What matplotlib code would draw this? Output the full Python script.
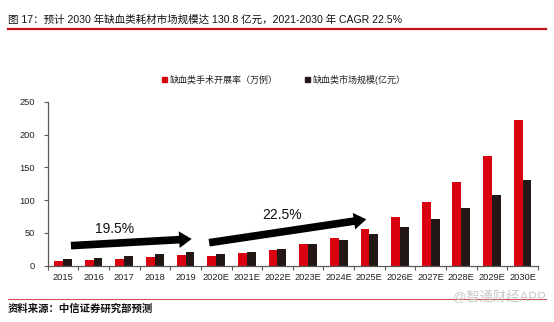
import matplotlib
matplotlib.use("Agg")
import matplotlib.pyplot as plt
from matplotlib.lines import Line2D
from matplotlib.patches import Patch

FONTS = ["Liberation Sans", "Noto Sans CJK SC", "DejaVu Sans"]
plt.rcParams["font.family"] = FONTS

years = ["2015", "2016", "2017", "2018", "2019", "2020E", "2021E", "2022E",
         "2023E", "2024E", "2025E", "2026E", "2027E", "2028E", "2029E", "2030E"]
surgeries = [6.6, 8.0, 10.0, 12.7, 15.7, 14.2, 18.8, 23.9,
             32.5, 42.7, 56.4, 74.2, 97.0, 128.0, 168.0, 221.5]
market = [10.2, 11.7, 14.0, 17.3, 20.3, 17.3, 21.3, 25.9,
          32.5, 38.6, 48.3, 58.4, 71.6, 87.4, 107.7, 130.8]
series_names = ["缺血类手术开展率（万例）", "缺血类市场规模(亿元）"]
yticks = [0, 50, 100, 150, 200, 250]
cagr_labels = ["19.5%", "22.5%"]

RED = "#D9000F"
DARK = "#231815"
AXIS = "#595959"

fig = plt.figure(figsize=(5.54, 3.22), dpi=100)
ax = fig.add_axes([0.086, 0.175, 0.885, 0.509])

x = list(range(len(years)))
w = 0.29
ax.bar([i - w / 2 for i in x], surgeries, width=w, color=RED, zorder=2)
ax.bar([i + w / 2 for i in x], market, width=w, color=DARK, zorder=2)

ax.set_xlim(-0.5, len(years) - 0.5)
ax.set_ylim(0, 250)
ax.set_yticks(yticks)
ax.set_xticks(x)
ax.set_xticklabels(years)
ax.set_xticks([i - 0.5 for i in range(len(years) + 1)], minor=True)
ax.tick_params(axis="x", which="major", length=0, pad=5, labelsize=6.7, colors="#222222")
ax.tick_params(axis="x", which="minor", length=3, width=0.8, color=AXIS, direction="out")
ax.tick_params(axis="y", length=3, width=0.8, color=AXIS, labelsize=6.7,
               labelcolor="#222222", pad=6)
for s in ("top", "right"):
    ax.spines[s].set_visible(False)
for s in ("left", "bottom"):
    ax.spines[s].set_color(AXIS)
    ax.spines[s].set_linewidth(0.9)

# growth arrows
arrow_style = dict(arrowstyle="simple,head_width=1.2,head_length=0.9,tail_width=0.55",
                   color="black", lw=0, shrinkA=0, shrinkB=0)
ax.annotate("", xy=(4.2, 40.7), xytext=(0.26, 30.5), arrowprops=arrow_style, zorder=3)
ax.annotate("", xy=(9.9, 70.7), xytext=(4.77, 35.0), arrowprops=arrow_style, zorder=3)
ax.text(1.69, 56, cagr_labels[0], fontsize=10, ha="center", va="center", color="#111111")
ax.text(7.14, 77, cagr_labels[1], fontsize=10, ha="center", va="center", color="#111111")

handles = [Patch(color=RED), Patch(color=DARK)]
fig.legend(handles, series_names, loc="center", bbox_to_anchor=(0.513, 0.752), ncol=2,
           frameon=False, fontsize=6.5, handlelength=0.55, handleheight=0.55,
           handletextpad=0.3, columnspacing=3.0, labelcolor="#222222")

# title block
fig.text(8 / 554, 1 - 20 / 322,
         "图 17：预计 2030 年缺血类耗材市场规模达 130.8 亿元，2021-2030 年 CAGR 22.5%",
         fontsize=7.6, ha="left", va="center", color="#111111")
fig.add_artist(Line2D([8 / 554, 546 / 554], [1 - 29 / 322] * 2, color="#C8101A", lw=1.6))

# footer
fig.add_artist(Line2D([8 / 554, 546 / 554], [1 - 299 / 322] * 2, color="#D05050", lw=0.8))
fig.text(8 / 554, 1 - 309 / 322, "资料来源：中信证券研究部预测", fontsize=7.5,
         ha="left", va="center", color="#111111", fontweight="bold")
fig.text(546 / 554, 1 - 297 / 322, "@智通财经APP", fontsize=9.5, ha="right", va="center",
         color="#BBBBBB", alpha=0.8)

fig.savefig("out.png", dpi=100)
